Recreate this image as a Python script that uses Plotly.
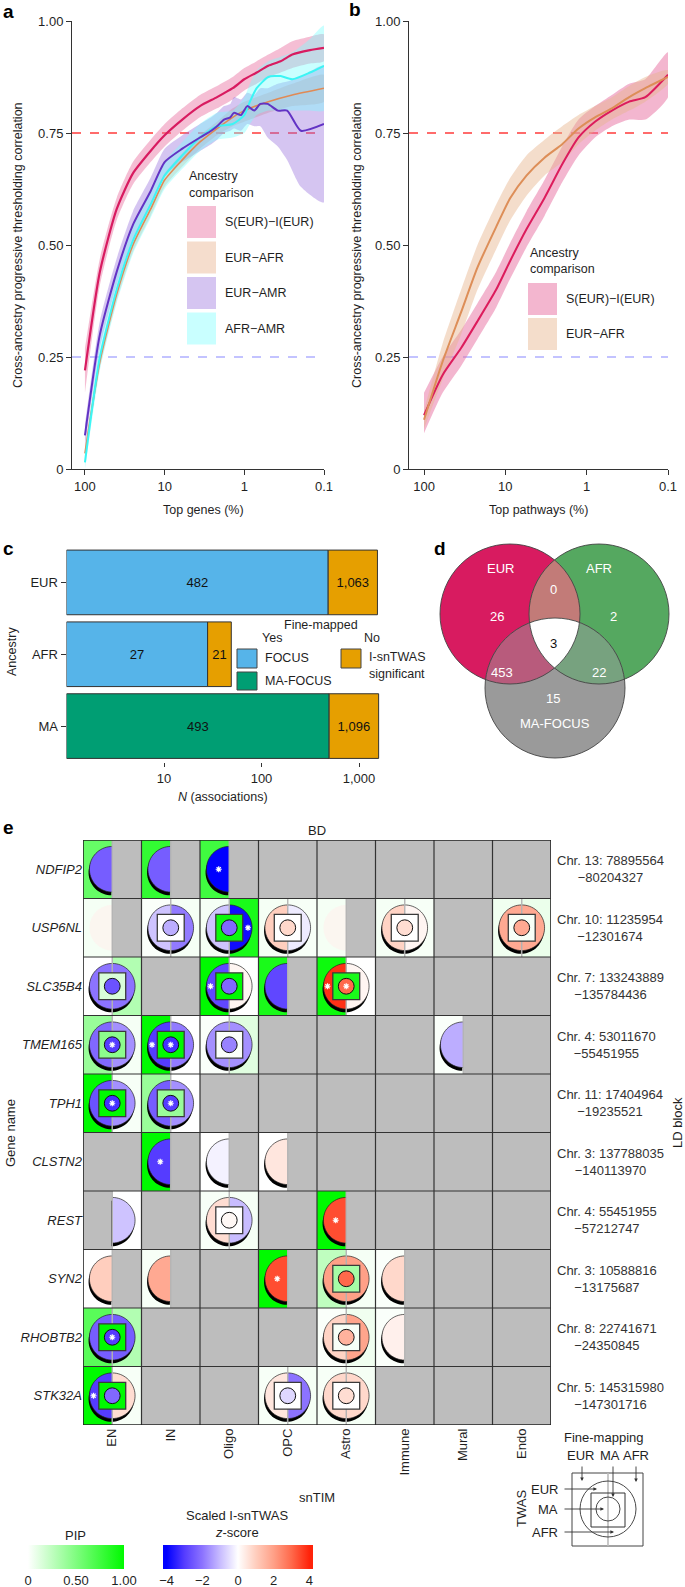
import numpy as np
import plotly.graph_objects as go

W, H = 685, 1587
FONT = 'Liberation Sans, Arial, Helvetica, sans-serif'
INK = '#1f1f1f'

# ---------------- panel a: top genes ----------------
a_x_sei = [100, 65, 40, 25, 15, 10, 6, 3.6, 2.2, 1.4, 1.0, 0.7, 0.5, 0.35, 0.25, 0.15, 0.1]
a_y_sei = [0.22, 0.44, 0.58, 0.66, 0.71, 0.745, 0.78, 0.81, 0.83, 0.85, 0.87, 0.885, 0.90, 0.91, 0.925, 0.935, 0.94]
a_lo_sei = [0.17, 0.41, 0.555, 0.635, 0.685, 0.72, 0.755, 0.785, 0.805, 0.825, 0.845, 0.86, 0.875, 0.885, 0.895, 0.905, 0.91]
a_hi_sei = [0.27, 0.47, 0.605, 0.685, 0.735, 0.77, 0.805, 0.835, 0.855, 0.875, 0.895, 0.91, 0.925, 0.94, 0.955, 0.965, 0.97]

a_x_afr = [100, 65, 40, 25, 15, 10, 6, 3.6, 2.2, 1.4, 1.0, 0.5, 0.25, 0.1]
a_y_afr = [0.035, 0.24, 0.39, 0.50, 0.58, 0.645, 0.69, 0.73, 0.76, 0.785, 0.80, 0.82, 0.835, 0.85]
a_lo_afr = [0.02, 0.225, 0.375, 0.485, 0.565, 0.63, 0.675, 0.715, 0.745, 0.765, 0.775, 0.795, 0.81, 0.82]
a_hi_afr = [0.05, 0.255, 0.405, 0.515, 0.595, 0.66, 0.705, 0.745, 0.775, 0.805, 0.82, 0.84, 0.86, 0.88]

a_x_amr = [100, 65, 40, 25, 15, 10, 6, 3.6, 2.6, 2.2, 1.8, 1.5, 1.35, 1.1, 0.92, 0.75, 0.63, 0.51, 0.38, 0.29, 0.195, 0.1]
a_y_amr = [0.075, 0.30, 0.44, 0.545, 0.62, 0.685, 0.715, 0.74, 0.755, 0.765, 0.78, 0.785, 0.795, 0.79, 0.81, 0.80,
           0.815, 0.815, 0.80, 0.80, 0.755, 0.77]
a_lo_amr = [0.05, 0.27, 0.41, 0.515, 0.59, 0.655, 0.685, 0.71, 0.725, 0.735, 0.75, 0.755, 0.76, 0.755, 0.77, 0.765,
            0.765, 0.74, 0.72, 0.69, 0.63, 0.595]
a_hi_amr = [0.10, 0.33, 0.47, 0.575, 0.65, 0.715, 0.745, 0.77, 0.785, 0.795, 0.81, 0.815, 0.83, 0.825, 0.84, 0.835,
            0.85, 0.85, 0.86, 0.865, 0.875, 0.90]

a_x_afr_amr = [100, 65, 40, 25, 15, 10, 6, 3.6, 2.2, 1.4, 1.0, 0.85, 0.7, 0.5, 0.35, 0.25, 0.15, 0.1]
a_y_afr_amr = [0.015, 0.25, 0.40, 0.51, 0.59, 0.655, 0.70, 0.74, 0.765, 0.77, 0.79, 0.82, 0.85, 0.875, 0.877, 0.87, 0.885, 0.90]
a_lo_afr_amr = [0.0, 0.22, 0.37, 0.48, 0.56, 0.625, 0.67, 0.71, 0.735, 0.74, 0.75, 0.77, 0.79, 0.80, 0.80, 0.80, 0.80, 0.80]
a_hi_afr_amr = [0.035, 0.28, 0.43, 0.54, 0.62, 0.685, 0.73, 0.77, 0.795, 0.80, 0.83, 0.86, 0.89, 0.91, 0.92, 0.93, 0.96, 0.99]

# ---------------- panel b: top pathways ----------------
b_x = [100, 59, 35, 22, 13, 8.7, 5.5, 3.3, 2.0, 1.26, 0.79, 0.49, 0.30, 0.19, 0.1]
b_y_sei = [0.12, 0.21, 0.27, 0.33, 0.40, 0.465, 0.535, 0.605, 0.68, 0.74, 0.775, 0.80, 0.82, 0.83, 0.88]
b_lo_sei = [0.08, 0.17, 0.23, 0.29, 0.36, 0.425, 0.495, 0.565, 0.64, 0.70, 0.74, 0.765, 0.78, 0.78, 0.83]
b_hi_sei = [0.17, 0.25, 0.31, 0.37, 0.44, 0.505, 0.575, 0.645, 0.72, 0.78, 0.81, 0.835, 0.86, 0.87, 0.93]
b_y_afr = [0.11, 0.24, 0.35, 0.45, 0.54, 0.605, 0.655, 0.695, 0.725, 0.76, 0.785, 0.805, 0.83, 0.85, 0.875]
b_lo_afr = [0.09, 0.20, 0.30, 0.40, 0.49, 0.555, 0.61, 0.655, 0.685, 0.725, 0.755, 0.78, 0.80, 0.82, 0.86]
b_hi_afr = [0.13, 0.28, 0.40, 0.50, 0.59, 0.65, 0.70, 0.735, 0.765, 0.79, 0.81, 0.83, 0.855, 0.875, 0.89]

# ---------------- panel c ----------------
c_ancestry = ['EUR', 'AFR', 'MA']
c_finemapped = [482, 27, 493]
c_not_finemapped = [1063, 21, 1096]

# ---------------- panel d ----------------
d_set_names = ['EUR', 'AFR', 'MA-FOCUS']
d_regions = ['EUR', 'AFR', 'MA', 'EUR&AFR', 'EUR&MA', 'AFR&MA', 'EUR&AFR&MA']
d_counts = [26, 2, 15, 0, 453, 22, 3]

# ---------------- panel e ----------------
e_genes = ['NDFIP2', 'USP6NL', 'SLC35B4', 'TMEM165', 'TPH1', 'CLSTN2', 'REST', 'SYN2', 'RHOBTB2', 'STK32A']
e_cells = ['EN', 'IN', 'Oligo', 'OPC', 'Astro', 'Immune', 'Mural', 'Endo']
e_ld_start = ['Chr. 13: 78895564', 'Chr. 10: 11235954', 'Chr. 7: 133243889', 'Chr. 4: 53011670',
              'Chr. 11: 17404964', 'Chr. 3: 137788035', 'Chr. 4: 55451955', 'Chr. 3: 10588816',
              'Chr. 8: 22741671', 'Chr. 5: 145315980']
e_ld_end = ['−80204327', '−12301674', '−135784436', '−55451955', '−19235521', '−140113970',
            '−57212747', '−13175687', '−24350845', '−147301716']
N = None
# columns: EN, IN, Oligo, OPC, Astro, Immune, Mural, Endo
e_pip_eur = [
    [0.6, 0.8, 0.75, N, N, N, N, N],
    [0.04, 0.02, 0.04, 0.04, 0.04, 0.04, N, 0.06],
    [0.0, N, 1.0, 0.9, 0.95, N, N, N],
    [0.4, 1.0, 0.02, N, N, N, 0.02, N],
    [1.0, 0.4, N, N, N, N, N, N],
    [N, 1.0, 0.0, 0.0, N, N, N, N],
    [N, N, 0.03, N, 1.0, N, N, N],
    [0.0, 0.03, N, 1.0, 0.25, 0.02, N, N],
    [0.65, N, N, N, 0.02, 0.02, N, N],
    [1.0, N, N, 0.03, 0.03, N, N, N],
]
e_pip_afr = [
    [N, N, N, N, N, N, N, N],
    [N, 0.04, 0.9, 0.03, N, 0.03, N, 0.08],
    [0.3, N, 0.0, N, 0.0, N, N, N],
    [0.04, 0.0, 0.12, N, N, N, N, N],
    [0.03, 0.0, N, N, N, N, N, N],
    [N, N, N, N, N, N, N, N],
    [0.0, N, 0.04, N, N, N, N, N],
    [N, N, N, N, 0.04, N, N, N],
    [0.3, N, N, N, 0.06, N, N, N],
    [0.03, N, N, 0.04, 0.04, N, N, N],
]
e_pip_ma = [
    [N, N, N, N, N, N, N, N],
    [N, 0.0, 0.95, 0.0, N, 0.0, N, 0.03],
    [0.15, N, 1.0, N, 0.9, N, N, N],
    [0.45, 1.0, 0.02, N, N, N, N, N],
    [1.0, 0.4, N, N, N, N, N, N],
    [N, N, N, N, N, N, N, N],
    [N, N, 0.0, N, N, N, N, N],
    [N, N, N, N, 0.35, N, N, N],
    [1.0, N, N, N, 0.03, N, N, N],
    [1.0, N, N, 0.0, 0.0, N, N, N],
]
e_z_eur = [
    [-2.4, -2.4, -4.0, N, N, N, N, N],
    [0.3, -0.9, -0.9, 1.0, 0.3, 0.9, N, 1.8],
    [-2.0, N, -2.8, -2.8, 3.8, N, N, N],
    [-2.2, -3.0, -1.6, N, N, N, -1.2, N],
    [-2.6, -2.4, N, N, N, N, N, N],
    [N, -3.0, -0.2, 0.5, N, N, N, N],
    [N, N, 0.7, N, 3.4, N, N, N],
    [1.0, 1.8, N, 3.4, 2.0, 0.8, N, N],
    [-2.4, N, N, N, 0.9, 0.3, N, N],
    [-3.0, N, N, 0.5, 0.8, N, N, N],
]
e_z_afr = [
    [N, N, N, N, N, N, N, N],
    [N, -1.9, -3.8, -0.3, N, 0.2, N, 1.8],
    [-2.0, N, 0.2, N, 0.2, N, N, N],
    [-1.6, -1.9, -1.6, N, N, N, N, N],
    [-1.6, -1.6, N, N, N, N, N, N],
    [N, N, N, N, N, N, N, N],
    [-0.9, N, -1.0, N, N, N, N, N],
    [N, N, N, N, 2.0, N, N, N],
    [-2.4, N, N, N, 1.9, N, N, N],
    [0.7, N, N, -2.0, 0.8, N, N, N],
]
e_z_ma = [
    [N, N, N, N, N, N, N, N],
    [N, -1.2, -2.2, 0.8, N, 0.7, N, 1.8],
    [-2.6, N, -2.2, N, 3.0, N, N, N],
    [-3.0, -3.2, -1.8, N, N, N, N, N],
    [-3.2, -3.0, N, N, N, N, N, N],
    [N, N, N, N, N, N, N, N],
    [N, N, 0.15, N, N, N, N, N],
    [N, N, N, N, 3.0, N, N, N],
    [-3.0, N, N, N, 1.6, N, N, N],
    [-2.2, N, N, -0.6, 0.7, N, N, N],
]
e_star_eur = [('NDFIP2', 'Oligo'), ('SLC35B4', 'Oligo'), ('SLC35B4', 'Astro'), ('TMEM165', 'IN'),
              ('CLSTN2', 'IN'), ('REST', 'Astro'), ('SYN2', 'OPC'), ('STK32A', 'EN')]
e_star_afr = [('USP6NL', 'Oligo')]
e_star_ma = [('SLC35B4', 'Astro'), ('TMEM165', 'EN'), ('TMEM165', 'IN'), ('TPH1', 'EN'),
             ('TPH1', 'IN'), ('RHOBTB2', 'EN')]


# ---------------- helpers ----------------
def dom_x(x0, x1):
    return [x0 / W, x1 / W]


def dom_y(y0, y1):
    return [1 - y1 / H, 1 - y0 / H]


def mix(c0, c1, t):
    return tuple(a + (b - a) * t for a, b in zip(c0, c1))


def rgb(c):
    return 'rgb(%d,%d,%d)' % tuple(round(v) for v in c)


PIP_LO, PIP_HI = (255, 255, 255), (0, 250, 0)
Z_STOPS = [(-4, (0, 0, 255)), (-3, (85, 60, 255)), (-2, (140, 115, 255)), (-1, (200, 188, 255)),
           (0, (255, 255, 255)), (1, (255, 206, 190)), (2, (255, 160, 135)), (3, (255, 105, 75)),
           (4, (255, 35, 10))]


def pip_color(p):
    return rgb(mix(PIP_LO, PIP_HI, min(max(p, 0), 1)))


def z_color(z):
    z = min(max(z, -4), 4)
    for (z0, c0), (z1, c1) in zip(Z_STOPS[:-1], Z_STOPS[1:]):
        if z <= z1:
            return rgb(mix(c0, c1, (z - z0) / (z1 - z0)))
    return rgb(Z_STOPS[-1][1])


def half_disc(cx, cy, r, side, closed=True, n=36):
    if side == 'L':
        t = np.linspace(np.pi / 2, 3 * np.pi / 2, n)
    else:
        t = np.linspace(-np.pi / 2, np.pi / 2, n)
    pts = ['%.4f,%.4f' % (cx + r * np.cos(a), cy + r * np.sin(a)) for a in t]
    return 'M' + ' L'.join(pts) + (' Z' if closed else '')


annotations = []
shapes = []


def txt(x, y, s, size=13, xanchor='center', yanchor='middle', color=INK, angle=0,
        bold=False, xref='x5', yref='y5'):
    annotations.append(dict(
        x=x, y=y, xref=xref, yref=yref, text=s, showarrow=False, xanchor=xanchor,
        yanchor=yanchor, textangle=angle,
        font=dict(family=FONT, size=size, color=color, weight='bold' if bold else 'normal')))


def px_rect(x0, y0, x1, y1, fill, line_color=None, lw=0):
    shapes.append(dict(type='rect', xref='x5', yref='y5', x0=x0, y0=y0, x1=x1, y1=y1,
                       fillcolor=fill, line=dict(color=line_color or fill, width=lw), layer='above'))


fig = go.Figure()

# ---------------- panel a ----------------
a_series = [
    ('S(EUR)−I(EUR)', a_x_sei, a_y_sei, a_lo_sei, a_hi_sei, '#D81B60', 'rgba(232,110,160,0.45)', 2.2),
    ('EUR−AFR', a_x_afr, a_y_afr, a_lo_afr, a_hi_afr, '#E08A55', 'rgba(230,170,130,0.40)', 1.6),
    ('EUR−AMR', a_x_amr, a_y_amr, a_lo_amr, a_hi_amr, '#6233C4', 'rgba(150,110,220,0.40)', 2.0),
    ('AFR−AMR', a_x_afr_amr, a_y_afr_amr, a_lo_afr_amr, a_hi_afr_amr, '#3CF5F5', 'rgba(120,255,255,0.40)', 2.0),
]
for name, xs, ys, lo, hi, lc, fc, lw in a_series:
    fig.add_trace(go.Scatter(x=xs + xs[::-1], y=hi + lo[::-1], fill='toself', fillcolor=fc,
                             line=dict(width=0, shape='spline', smoothing=0.6), mode='lines',
                             xaxis='x', yaxis='y', showlegend=False, hoverinfo='skip'))
for name, xs, ys, lo, hi, lc, fc, lw in [a_series[1], a_series[3], a_series[2], a_series[0]]:
    fig.add_trace(go.Scatter(x=xs, y=ys, mode='lines', name=name,
                             line=dict(color=lc, width=lw, shape='spline', smoothing=0.6),
                             xaxis='x', yaxis='y', showlegend=False))

# ---------------- panel b ----------------
b_series = [
    ('S(EUR)−I(EUR)', b_y_sei, b_lo_sei, b_hi_sei, '#DC1C5C', 'rgba(232,110,160,0.50)'),
    ('EUR−AFR', b_y_afr, b_lo_afr, b_hi_afr, '#DD8E58', 'rgba(230,180,140,0.45)'),
]
for name, ys, lo, hi, lc, fc in b_series:
    fig.add_trace(go.Scatter(x=b_x + b_x[::-1], y=hi + lo[::-1], fill='toself', fillcolor=fc,
                             line=dict(width=0, shape='spline', smoothing=0.6), mode='lines',
                             xaxis='x2', yaxis='y2', showlegend=False, hoverinfo='skip'))
for name, ys, lo, hi, lc, fc in b_series:
    fig.add_trace(go.Scatter(x=b_x, y=ys, mode='lines', name=name,
                             line=dict(color=lc, width=2, shape='spline', smoothing=0.6),
                             xaxis='x2', yaxis='y2', showlegend=False))

for yref, xref in (('y', 'x'), ('y2', 'x2')):
    shapes.append(dict(type='line', xref=xref + ' domain', yref=yref, x0=0, x1=1, y0=0.75, y1=0.75,
                       line=dict(color='#FF3B3B', width=1.3, dash='dash'), layer='below'))
    shapes.append(dict(type='line', xref=xref + ' domain', yref=yref, x0=0, x1=1, y0=0.25, y1=0.25,
                       line=dict(color='#B0B0FF', width=1.3, dash='dash'), layer='below'))

# legends a and b
a_legend_cols = [s[6] for s in a_series]
a_legend_names = [s[0] for s in a_series]
txt(187, 176, 'Ancestry', xanchor='left', size=12.5)
txt(187, 193, 'comparison', xanchor='left', size=12.5)
for i, (nm, col) in enumerate(zip(a_legend_names, a_legend_cols)):
    y0 = 206 + i * 35.5
    px_rect(187, y0, 216, y0 + 32, col)
    txt(223, y0 + 16, nm, xanchor='left', size=12.5)
txt(528, 253, 'Ancestry', xanchor='left', size=12.5)
txt(528, 269, 'comparison', xanchor='left', size=12.5)
for i, s in enumerate(b_series):
    y0 = 283 + i * 35
    px_rect(528, y0, 557, y0 + 32, s[5])
    txt(564, y0 + 16, s[0], xanchor='left', size=12.5)

# ---------------- panel c ----------------
c_colors = ['#56B4E9', '#56B4E9', '#009E73']
fig.add_trace(go.Bar(y=c_ancestry, x=c_finemapped, base=1, orientation='h', xaxis='x3', yaxis='y3',
                     marker=dict(color=c_colors, line=dict(color='#333333', width=1)),
                     text=[f'{v:,}' for v in c_finemapped], textposition='inside',
                     insidetextanchor='middle', textangle=0,
                     textfont=dict(family=FONT, size=13, color='#111111'), showlegend=False))
fig.add_trace(go.Bar(y=c_ancestry, x=c_not_finemapped, base=[1 + v for v in c_finemapped],
                     orientation='h', xaxis='x3', yaxis='y3',
                     marker=dict(color='#E69F00', line=dict(color='#333333', width=1)),
                     text=[f'{v:,}' for v in c_not_finemapped], textposition='inside',
                     insidetextanchor='middle', textangle=0,
                     textfont=dict(family=FONT, size=13, color='#111111'), showlegend=False))

txt(321, 625, 'Fine-mapped', size=12.5)
txt(272, 638, 'Yes', size=12.5)
txt(372, 638, 'No', size=12.5)
px_rect(237, 649, 257, 668, '#56B4E9', '#444444', 1)
px_rect(237, 672, 257, 690, '#009E73', '#444444', 1)
px_rect(341, 649, 361, 668, '#E69F00', '#444444', 1)
txt(263, 658, 'FOCUS', xanchor='left', size=12.5)
txt(263, 681, 'MA-FOCUS', xanchor='left', size=12.5)
txt(367, 657, 'I-snTWAS', xanchor='left', size=12.5)
txt(367, 674, 'significant', xanchor='left', size=12.5)
txt(223, 797, '<i>N</i> (associations)', size=12.5)
txt(12, 652, 'Ancestry', size=12.5, angle=-90)

# ---------------- panel d (Venn) ----------------
VR = 70
v_centers = [(510, 614), (599, 614), (555, 688)]


def circle_pts(cx, cy, r, n=200):
    t = np.linspace(0, 2 * np.pi, n, endpoint=False)
    return [(cx + r * np.cos(a), cy + r * np.sin(a)) for a in t]


def clip(subject, clipper):
    def inside(p, a, b):
        return (b[0] - a[0]) * (p[1] - a[1]) - (b[1] - a[1]) * (p[0] - a[0]) >= 0

    def inter(p, q, a, b):
        x1, y1 = p
        x2, y2 = q
        x3, y3 = a
        x4, y4 = b
        den = (x1 - x2) * (y3 - y4) - (y1 - y2) * (x3 - x4)
        t = ((x1 - x3) * (y3 - y4) - (y1 - y3) * (x3 - x4)) / den
        return (x1 + t * (x2 - x1), y1 + t * (y2 - y1))

    out = list(subject)
    for i in range(len(clipper)):
        a, b = clipper[i - 1], clipper[i]
        inp, out = out, []
        if not inp:
            break
        s = inp[-1]
        for e in inp:
            if inside(e, a, b):
                if not inside(s, a, b):
                    out.append(inter(s, e, a, b))
                out.append(e)
            elif inside(s, a, b):
                out.append(inter(s, e, a, b))
            s = e
    return out


def poly_path(pts):
    return 'M' + ' L'.join('%.2f,%.2f' % p for p in pts) + ' Z'


circ = [circle_pts(cx, cy, VR) for cx, cy in v_centers]
v_fill = ['#D81B60', '#55A860', '#9A9A9A']
for (cx, cy), col in zip(v_centers, v_fill):
    shapes.append(dict(type='circle', xref='x5', yref='y5', x0=cx - VR, x1=cx + VR, y0=cy - VR, y1=cy + VR,
                       fillcolor=col, line=dict(width=0), layer='above'))
for (i, j), col in (((0, 1), '#C27B78'), ((0, 2), '#B85B7C'), ((1, 2), '#77A27F')):
    shapes.append(dict(type='path', xref='x5', yref='y5', path=poly_path(clip(circ[i], circ[j])),
                       fillcolor=col, line=dict(width=0), layer='above'))
shapes.append(dict(type='path', xref='x5', yref='y5', path=poly_path(clip(clip(circ[0], circ[1]), circ[2])),
                   fillcolor='white', line=dict(width=0), layer='above'))
for cx, cy in v_centers:
    shapes.append(dict(type='circle', xref='x5', yref='y5', x0=cx - VR, x1=cx + VR, y0=cy - VR, y1=cy + VR,
                       line=dict(color='#444444', width=0.9), layer='above'))
d_label_pos = [(497, 616), (613, 616), (553, 698), (553, 589), (502, 672), (599, 672), (553, 643)]
for reg, cnt, (lx, ly) in zip(d_regions, d_counts, d_label_pos):
    txt(lx, ly, str(cnt), color='#111111' if reg == 'EUR&AFR&MA' else 'white', size=13)
for nm, (lx, ly) in zip(d_set_names, [(500, 568), (599, 568), (555, 723)]):
    txt(lx, ly, nm, color='white', size=13)

# ---------------- panel e ----------------
GRAY = '#BDBDBD'
R_OUT, R_IN, SQ = 0.39, 0.135, 0.23
SH_DX, SH_DY = -0.015, 0.055
faded_cells = {('USP6NL', 'EN'), ('USP6NL', 'Astro')}


def e_add(**kw):
    s = dict(xref='x4', yref='y4', layer='below')
    s.update(kw)
    shapes.append(s)


star_x, star_y = [], []
for r, gene in enumerate(e_genes):
    for c, cell in enumerate(e_cells):
        pe, pa, pm = e_pip_eur[r][c], e_pip_afr[r][c], e_pip_ma[r][c]
        ze, za, zm = e_z_eur[r][c], e_z_afr[r][c], e_z_ma[r][c]
        if pe is None and pa is None:
            e_add(type='rect', x0=c - 0.5, x1=c + 0.5, y0=r - 0.5, y1=r + 0.5, fillcolor=GRAY, line=dict(width=0))
            continue
        e_add(type='rect', x0=c - 0.5, x1=c, y0=r - 0.5, y1=r + 0.5,
              fillcolor=pip_color(pe) if pe is not None else GRAY, line=dict(width=0))
        e_add(type='rect', x0=c, x1=c + 0.5, y0=r - 0.5, y1=r + 0.5,
              fillcolor=pip_color(pa) if pa is not None else GRAY, line=dict(width=0))
        halves = [(s, z) for s, p, z in (('L', pe, ze), ('R', pa, za)) if p is not None]
        faded = (gene, cell) in faded_cells
        if not faded:
            for side, z in halves:
                e_add(type='path', path=half_disc(c + SH_DX, r + SH_DY, R_OUT, side),
                      fillcolor='black', line=dict(width=0))
        for side, z in halves:
            e_add(type='path', path=half_disc(c, r, R_OUT, side), fillcolor=z_color(z), line=dict(width=0),
                  opacity=0.6 if faded else 1)
        if not faded:
            for side, z in halves:
                e_add(type='path', path=half_disc(c, r, R_OUT, side, closed=False),
                      line=dict(color='#222222', width=0.7))
        e_add(type='line', x0=c, x1=c, y0=r - 0.5, y1=r + 0.5, line=dict(color='#B4B4B4', width=1.4))
        if pm is not None:
            e_add(type='rect', x0=c - SQ, x1=c + SQ, y0=r - SQ, y1=r + SQ, fillcolor=pip_color(pm),
                  line=dict(color='#3a3a3a', width=1.3))
            e_add(type='circle', x0=c - R_IN, x1=c + R_IN, y0=r - R_IN, y1=r + R_IN, fillcolor=z_color(zm),
                  line=dict(color='#111111', width=1))
        off = 0.32 if pm is not None else 0.18
        if (gene, cell) in e_star_eur:
            star_x.append(c - off)
            star_y.append(r)
        if (gene, cell) in e_star_afr:
            star_x.append(c + off)
            star_y.append(r)
        if (gene, cell) in e_star_ma:
            star_x.append(c)
            star_y.append(r)

for k in range(len(e_cells) + 1):
    edge = k in (0, len(e_cells))
    e_add(type='line', x0=k - 0.5, x1=k - 0.5, y0=-0.5, y1=len(e_genes) - 0.5,
          line=dict(color='#222222' if edge else '#333333', width=1.6 if edge else 1.2))
for k in range(len(e_genes) + 1):
    edge = k in (0, len(e_genes))
    e_add(type='line', x0=-0.5, x1=len(e_cells) - 0.5, y0=k - 0.5, y1=k - 0.5,
          line=dict(color='#222222' if edge else '#333333', width=1.6 if edge else 1.2))

fig.add_trace(go.Scatter(x=star_x, y=star_y, mode='markers', xaxis='x4', yaxis='y4',
                         marker=dict(symbol='asterisk-open', size=5, color='white',
                                     line=dict(color='white', width=1.2)),
                         showlegend=False, hoverinfo='skip'))

for r, (s0, s1) in enumerate(zip(e_ld_start, e_ld_end)):
    txt(555, r, f'{s0}<br>{s1}', xanchor='left', yref='y4', size=13, color='#333333')
txt(317, 830, 'BD', size=13)
txt(677, 1123, 'LD block', size=13, angle=-90)
txt(10, 1133, 'Gene name', size=13, angle=-90)

# colour bars (dummy traces, markers invisible)
z_cmin, z_cmax = -4.2, 4.2
z_scale = [[0, rgb(Z_STOPS[0][1])]] + [[(z - z_cmin) / (z_cmax - z_cmin), rgb(col)] for z, col in Z_STOPS] + \
          [[1, rgb(Z_STOPS[-1][1])]]
cb_common = dict(orientation='h', xanchor='center', yanchor='top', y=1 - 1545 / H, lenmode='pixels',
                 thickness=24, thicknessmode='pixels', outlinewidth=0, xpad=0, ypad=0, ticks='',
                 tickfont=dict(family=FONT, size=13, color=INK))
fig.add_trace(go.Scatter(x=[0, 0], y=[-50, -50], mode='markers', xaxis='x5', yaxis='y5', showlegend=False,
                         hoverinfo='skip',
                         marker=dict(size=1, opacity=0, color=[0, 1], cmin=0, cmax=1,
                                     colorscale=[[0, rgb(PIP_LO)], [1, rgb(PIP_HI)]], showscale=True,
                                     colorbar=dict(x=76 / W, len=96, tickvals=[0, 0.5, 1],
                                                   ticktext=['0', '0.50', '1.00'], **cb_common))))
fig.add_trace(go.Scatter(x=[0, 0], y=[-50, -50], mode='markers', xaxis='x5', yaxis='y5', showlegend=False,
                         hoverinfo='skip',
                         marker=dict(size=1, opacity=0, color=[z_cmin, z_cmax], cmin=z_cmin, cmax=z_cmax,
                                     colorscale=z_scale, showscale=True,
                                     colorbar=dict(x=238 / W, len=150, tickvals=[-4, -2, 0, 2, 4],
                                                   ticktext=['−4', '−2', '0', '2', '4'], **cb_common))))
txt(75, 1535, 'PIP', size=13)
txt(237, 1515, 'Scaled I-snTWAS', size=13)
txt(237, 1532, '<i>z</i>-score', size=13)
txt(317, 1497, 'snTIM', size=13)

# schematic key
shapes.append(dict(type='rect', xref='x5', yref='y5', x0=572, x1=643, y0=1473, y1=1546,
                   line=dict(color='#444444', width=1), layer='above'))
shapes.append(dict(type='line', xref='x5', yref='y5', x0=608, x1=608, y0=1473, y1=1546,
                   line=dict(color='#BBBBBB', width=1.6), layer='above'))
shapes.append(dict(type='circle', xref='x5', yref='y5', x0=580, x1=636, y0=1481, y1=1537,
                   line=dict(color='#333333', width=0.9), layer='above'))
shapes.append(dict(type='rect', xref='x5', yref='y5', x0=591, x1=625, y0=1493, y1=1527,
                   line=dict(color='#333333', width=1), layer='above'))
shapes.append(dict(type='circle', xref='x5', yref='y5', x0=596, x1=620, y0=1497, y1=1521,
                   line=dict(color='#333333', width=0.9), layer='above'))
txt(604, 1437, 'Fine-mapping', size=13)
txt(580, 1455, 'EUR', size=13)
txt(610, 1455, 'MA', size=13)
txt(636, 1455, 'AFR', size=13)
txt(560, 1489, 'EUR', xanchor='right', size=13)
txt(560, 1509, 'MA', xanchor='right', size=13)
txt(560, 1532, 'AFR', xanchor='right', size=13)
txt(521, 1509, 'TWAS', size=13, angle=-90)
for hx, hy, tx, ty in [(582, 1481, 582, 1465), (613, 1497, 613, 1465), (636, 1482, 636, 1465),
                       (597, 1489, 563, 1489), (604, 1509, 563, 1509), (614, 1532, 563, 1532)]:
    annotations.append(dict(x=hx, y=hy, ax=tx, ay=ty, xref='x5', yref='y5', axref='x5', ayref='y5',
                            text='', showarrow=True, arrowhead=2, arrowsize=0.8, arrowwidth=0.9,
                            arrowcolor='#333333'))

# axis titles and panel letters
txt(203, 510, 'Top genes (%)', size=12.5)
txt(538, 510, 'Top pathways (%)', size=12.5)
txt(18, 245, 'Cross-ancestry progressive thresholding correlation', size=12.5, angle=-90)
txt(357, 245, 'Cross-ancestry progressive thresholding correlation', size=12.5, angle=-90)
for letter, lx, ly in [('a', 1, 11), ('b', 347, 9), ('c', 1, 548), ('d', 432, 548), ('e', 1, 827)]:
    txt(lx, ly, letter, size=19, xanchor='left', bold=True, color='black')

tickfont = dict(family=FONT, size=13, color=INK)
pct_axis = dict(type='log', tickvals=[100, 10, 1, 0.1], ticktext=['100', '10', '1', '0.1'],
                showline=True, linecolor='#333333', linewidth=1, ticks='outside', ticklen=5,
                tickcolor='#333333', showgrid=False, zeroline=False, tickfont=tickfont, automargin=False)
corr_axis = dict(range=[0, 1], tickvals=[0, 0.25, 0.5, 0.75, 1], ticktext=['0', '0.25', '0.50', '0.75', '1.00'],
                 showline=True, linecolor='#333333', linewidth=1, ticks='outside', ticklen=5,
                 tickcolor='#333333', showgrid=False, zeroline=False, tickfont=tickfont, automargin=False)
hidden = dict(visible=False, showgrid=False, zeroline=False, fixedrange=True)

fig.update_layout(
    width=W, height=H, autosize=False,
    margin=dict(l=0, r=0, t=0, b=0),
    paper_bgcolor='white', plot_bgcolor='rgba(0,0,0,0)',
    font=dict(family=FONT, size=13, color=INK),
    barmode='overlay', bargap=0.1,
    showlegend=False,
    xaxis=dict(domain=dom_x(72, 324), range=[2 + 13 / 80, -1], anchor='y', **pct_axis),
    yaxis=dict(domain=dom_y(21, 469), anchor='x', **corr_axis),
    xaxis2=dict(domain=dom_x(409, 668), range=[2 + 15 / 81.3, -1], anchor='y2', **pct_axis),
    yaxis2=dict(domain=dom_y(21, 469), anchor='x2', **corr_axis),
    xaxis3=dict(domain=dom_x(66.5, 381), type='log', range=[0, (381 - 66.5) / 97.5], anchor='y3',
                tickvals=[10, 100, 1000], ticktext=['10', '100', '1,000'], ticks='outside', ticklen=4,
                tickcolor='#333333', showline=False, showgrid=False, zeroline=False, tickfont=tickfont,
                automargin=False),
    yaxis3=dict(domain=dom_y(546.5, 762), anchor='x3', categoryorder='array', categoryarray=c_ancestry,
                autorange='reversed', ticks='outside', ticklen=5, tickcolor='#333333', showline=False,
                showgrid=False, zeroline=False, tickfont=tickfont, automargin=False),
    xaxis4=dict(domain=dom_x(83, 551), range=[-0.5, len(e_cells) - 0.5], anchor='y4',
                tickvals=list(range(len(e_cells))), ticktext=e_cells, tickangle=-90, ticks='',
                showline=False, showgrid=False, zeroline=False, tickfont=tickfont, automargin=False),
    yaxis4=dict(domain=dom_y(840, 1425), range=[len(e_genes) - 0.5, -0.5], anchor='x4',
                tickvals=list(range(len(e_genes))), ticktext=[f'<i>{g}</i>' for g in e_genes], ticks='',
                showline=False, showgrid=False, zeroline=False, tickfont=tickfont, automargin=False),
    xaxis5=dict(domain=[0, 1], range=[0, W], anchor='y5', **hidden),
    yaxis5=dict(domain=[0, 1], range=[H, 0], anchor='x5', **hidden),
    shapes=shapes,
    annotations=annotations,
)

# page body margin would push the fixed-size figure into a scrollbar
fig.write_html('out.html', config={'displayModeBar': False},
               post_script="document.body.style.margin='0';document.body.style.overflow='hidden';")
